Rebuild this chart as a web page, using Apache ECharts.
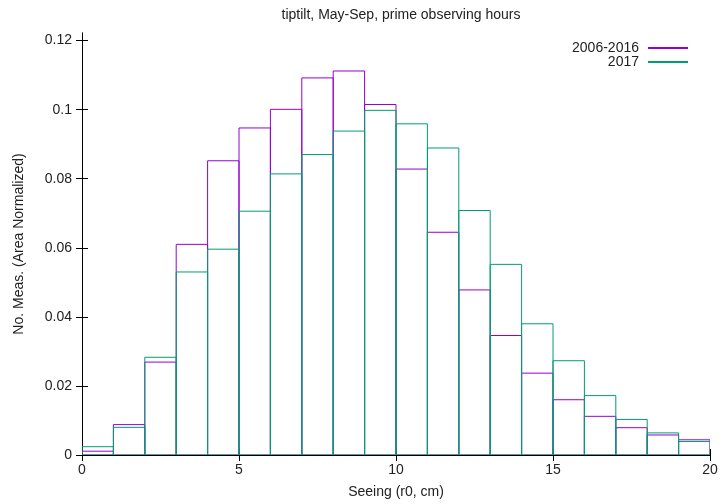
<!DOCTYPE html>
<html><head><meta charset="utf-8">
<script src="https://cdn.jsdelivr.net/npm/echarts@6/dist/echarts.min.js"></script>
<style>html,body{margin:0;padding:0;background:#fff}#c{width:723px;height:504px}</style>
</head><body><div id="c"></div>
<script>
var binStarts = [0,1,2,3,4,5,6,7,8,9,10,11,12,13,14,15,16,17,18,19];
var hist2006_2016 = [0.0011,0.0088,0.0269,0.0610,0.0852,0.0947,0.1001,0.1092,0.1112,0.1015,0.0828,0.0645,0.0478,0.0346,0.0237,0.0160,0.0112,0.0079,0.0058,0.0044];
var hist2017 = [0.0024,0.0080,0.0283,0.0530,0.0596,0.0706,0.0814,0.0870,0.0938,0.0998,0.0959,0.0889,0.0708,0.0552,0.0380,0.0273,0.0172,0.0103,0.0064,0.0039];
var seriesNames = ['2006-2016','2017'];
var yTicks = [0,0.02,0.04,0.06,0.08,0.1,0.12];
var yTickLabels = ['0','0.02','0.04','0.06','0.08','0.1','0.12'];
var binWidth = 1;

var FONT = 'Liberation Sans';
var purple = '#9400D3', green = '#009E73';

function mk(vals){ return binStarts.map(function(x,i){ return [x, vals[i]]; }); }
function render(color){
  return function(params, api){
    var x = api.value(0), v = api.value(1);
    var p0 = api.coord([x, 0]);
    var p1 = api.coord([x + binWidth, v]);
    return {type:'rect', shape:{x:p0[0], y:p1[1], width:p1[0]-p0[0], height:p0[1]-p1[1]},
      style:{fill:null, stroke:color, lineWidth:1}};
  };
}
var chart = echarts.init(document.getElementById('c'));
var tickStyle = {show:true, inside:true, length:6, lineStyle:{color:'#000'}};
var yTickStyle = {show:true, inside:true, length:6, lineStyle:{color:'#000'}, customValues:yTicks};
chart.setOption({
  animation:false,
  title:{text:'tiptilt, May-Sep, prime observing hours', left:396, top:3, textAlign:'center',
    textStyle:{fontFamily:FONT, fontSize:14, fontWeight:'normal', color:'#222'}},
  legend:{right:30, top:36, orient:'vertical', align:'right', itemWidth:40, itemHeight:2, itemGap:0,
    icon:'rect', textStyle:{fontFamily:FONT, fontSize:14, color:'#222', padding:[0,4,0,0]},
    data:seriesNames},
  grid:{left:82, right:13, top:33, bottom:46},
  xAxis:[{type:'value', min:0, max:20, interval:5, position:'bottom',
    name:'Seeing (r0, cm)', nameLocation:'middle', nameGap:30,
    nameTextStyle:{fontFamily:FONT, fontSize:14, color:'#222'},
    axisLine:{show:true, lineStyle:{color:'#000', width:1}}, axisTick:tickStyle,
    axisLabel:{fontFamily:FONT, fontSize:14, color:'#222', margin:8},
    splitLine:{show:false}},
   {type:'value', min:0, max:20, interval:5, position:'top',
    axisLine:{show:true, lineStyle:{color:'#000', width:1}}, axisTick:tickStyle,
    axisLabel:{show:false}, splitLine:{show:false}}],
  yAxis:[{type:'value', min:0, max:0.1222, position:'left',
    name:'No. Meas. (Area Normalized)', nameLocation:'middle', nameGap:56,
    nameTextStyle:{fontFamily:FONT, fontSize:14, color:'#222'},
    axisLine:{show:true, lineStyle:{color:'#000', width:1}}, axisTick:yTickStyle,
    axisLabel:{fontFamily:FONT, fontSize:14, color:'#222', margin:10, customValues:yTicks,
      formatter:function(v){ var i = yTicks.indexOf(v); return i >= 0 ? yTickLabels[i] : String(parseFloat(v.toFixed(3))); }},
    splitLine:{show:false}},
   {type:'value', min:0, max:0.1222, position:'right',
    axisLine:{show:true, lineStyle:{color:'#000', width:1}}, axisTick:yTickStyle,
    axisLabel:{show:false, customValues:yTicks}, splitLine:{show:false}}],
  series:[
    {name:seriesNames[0], type:'custom', renderItem:render(purple), data:mk(hist2006_2016),
     encode:{x:0, y:1}, itemStyle:{color:purple}, clip:true},
    {name:seriesNames[1], type:'custom', renderItem:render(green), data:mk(hist2017),
     encode:{x:0, y:1}, itemStyle:{color:green}, clip:true}
  ]
});
</script></body></html>
